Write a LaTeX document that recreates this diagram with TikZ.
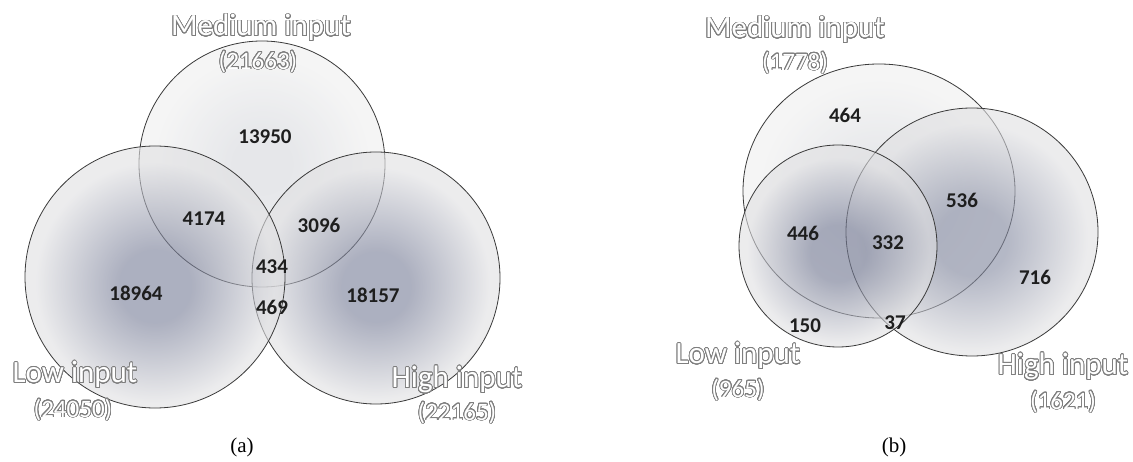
\documentclass[tikz,border=0pt]{standalone}
\usepackage{fontspec}
\setmainfont{Carlito}
\newfontfamily\capfont{Liberation Serif}
\usepackage{contour}
\contourlength{0.8pt}
\contournumber{32}

\definecolor{ringcol}{HTML}{3A3A3A}
\definecolor{numcol}{HTML}{1E1E1E}
\definecolor{tagedge}{HTML}{7E7E7E}
\definecolor{paleIn}{HTML}{D6D8DD}
\definecolor{paleOut}{HTML}{EFEFEF}
\definecolor{deepIn}{HTML}{767C96}
\definecolor{deepOut}{HTML}{E0E0E2}
\definecolor{midIn}{HTML}{8389A0}
\pgfdeclareradialshading{palefill}{\pgfpoint{0bp}{0bp}}{color(0bp)=(paleIn); color(6bp)=(paleIn); color(22bp)=(paleOut); color(50bp)=(paleOut)}
\pgfdeclareradialshading{deepfill}{\pgfpoint{0bp}{-2bp}}{color(0bp)=(deepIn); color(7bp)=(deepIn); color(23bp)=(deepOut); color(50bp)=(deepOut)}
\pgfdeclareradialshading{midfill}{\pgfpoint{0bp}{-2bp}}{color(0bp)=(midIn); color(7bp)=(midIn); color(23bp)=(deepOut); color(50bp)=(deepOut)}

\begin{document}
\begin{tikzpicture}[x=1pt, y=-1pt,
  every node/.style={inner sep=0pt},
  ring/.style={draw=ringcol, line width=0.8pt, fill opacity=0.6},
  count/.style={font=\fontsize{21}{22}\selectfont\bfseries, text=numcol},
  settag/.style={font=\fontsize{31}{32}\selectfont, text=white},
  sizetag/.style={font=\fontsize{25}{26}\selectfont, text=white},
  panel/.style={font=\capfont\fontsize{21}{22}\selectfont}]
  \useasboundingbox[fill=white] (0,0) rectangle (1133,462);

  % panel (a)
  \coordinate (medA) at (262,164);
  \coordinate (highA) at (376,278);
  \coordinate (lowA) at (155,277);
  \shadedraw[ring, shading=palefill] (medA) ellipse [x radius=123pt, y radius=123pt];
  \shadedraw[ring, shading=deepfill] (highA) ellipse [x radius=124pt, y radius=126pt];
  \shadedraw[ring, shading=deepfill] (lowA) ellipse [x radius=130pt, y radius=131pt];
  \node[count] (a13950) at (265,137) {13950};
  \node[count] (a4174) at (204,219) {4174};
  \node[count] (a3096) at (319,225) {3096};
  \node[count] (a434) at (272,267) {434};
  \node[count] (a469) at (272,307) {469};
  \node[count] (a18964) at (136,293) {18964};
  \node[count] (a18157) at (373,295) {18157};
  \node[settag] (medAtag) at (261,28) {\contour{tagedge}{Medium input}};
  \node[sizetag] (medAsize) at (258,62) {\contour{tagedge}{(21663)}};
  \node[settag] (lowAtag) at (75,375) {\contour{tagedge}{Low input}};
  \node[sizetag] (lowAsize) at (73,410) {\contour{tagedge}{(24050)}};
  \node[settag] (highAtag) at (457,380) {\contour{tagedge}{High input}};
  \node[sizetag] (highAsize) at (457,413) {\contour{tagedge}{(22165)}};
  \node[panel] (capA) at (242,447) {(a)};

  % panel (b)
  \coordinate (medB) at (879,191);
  \coordinate (highB) at (972,232);
  \coordinate (lowB) at (838,246);
  \shadedraw[ring, shading=palefill] (medB) ellipse [x radius=136pt, y radius=127pt];
  \shadedraw[ring, shading=midfill] (highB) ellipse [x radius=126pt, y radius=124pt];
  \shadedraw[ring, shading=deepfill] (lowB) ellipse [x radius=99pt, y radius=101pt];
  \node[count] (b464) at (845,115) {464};
  \node[count] (b536) at (962,200) {536};
  \node[count] (b446) at (803,233) {446};
  \node[count] (b332) at (888,243) {332};
  \node[count] (b150) at (805,326) {150};
  \node[count] (b37) at (895,323) {37};
  \node[count] (b716) at (1035,277) {716};
  \node[settag] (medBtag) at (795,30) {\contour{tagedge}{Medium input}};
  \node[sizetag] (medBsize) at (795,63) {\contour{tagedge}{(1778)}};
  \node[settag] (lowBtag) at (738,356) {\contour{tagedge}{Low input}};
  \node[sizetag] (lowBsize) at (738,390) {\contour{tagedge}{(965)}};
  \node[settag] (highBtag) at (1063,367) {\contour{tagedge}{High input}};
  \node[sizetag] (highBsize) at (1063,402) {\contour{tagedge}{(1621)}};
  \node[panel] (capB) at (894,447) {(b)};
\end{tikzpicture}
\end{document}
